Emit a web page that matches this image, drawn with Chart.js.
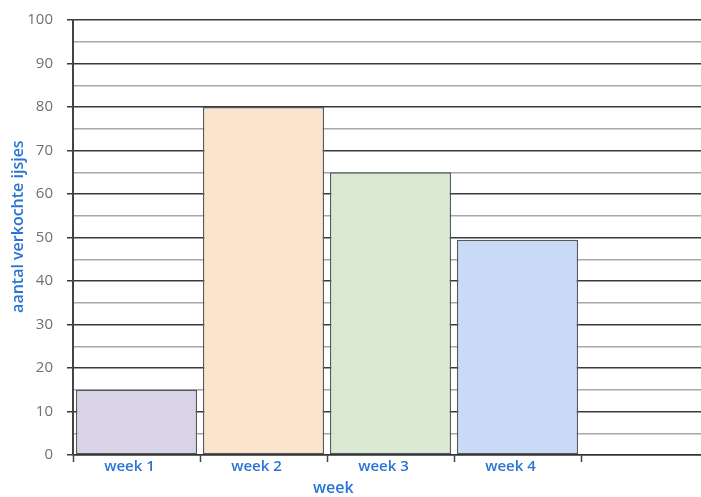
<!DOCTYPE html>
<html>
<head>
<meta charset="utf-8">
<script src="https://cdn.jsdelivr.net/npm/chart.js@4/dist/chart.umd.min.js"></script>
<style>
  html, body { margin: 0; padding: 0; background: #fff; overflow: hidden; }
  #wrap { width: 710px; height: 497px; }
</style>
</head>
<body>
<div id="wrap"><canvas id="c" width="710" height="497"></canvas></div>
<script>
const categories = ['week 1', 'week 2', 'week 3', 'week 4', ''];
const sales = [15, 80, 65, 49.5, null];
const barColors = ['#d9d3e8', '#fce4cc', '#d9e9d3', '#c9daf6', '#ffffff'];
const yTitle = 'aantal verkochte ijsjes';
const xTitle = 'week';
const yMin = 0, yMax = 100, yStep = 5, yLabelStep = 10;

const BLUE = '#2a74d6';
const FONT = '"Open Sans", "Liberation Sans", sans-serif';

const titlePlugin = {
  id: 'titles',
  afterDraw(chart) {
    const ctx = chart.ctx;
    const a = chart.chartArea;
    ctx.save();
    ctx.fillStyle = BLUE;
    ctx.font = '600 16px ' + FONT;
    ctx.textAlign = 'center';
    ctx.textBaseline = 'middle';
    // y title
    ctx.save();
    ctx.translate(18, a.top + (a.bottom - a.top) * 0.475);
    ctx.rotate(-Math.PI / 2);
    ctx.fillText(yTitle, 0, 0);
    ctx.restore();
    // x title
    ctx.fillText(xTitle, a.left + (a.right - a.left) * 0.41, 488);
    ctx.restore();
  }
};

new Chart(document.getElementById('c'), {
  type: 'bar',
  data: {
    labels: categories,
    datasets: [{
      data: sales,
      backgroundColor: barColors,
      borderColor: '#555a60',
      borderWidth: 1.5,
      borderSkipped: false,
      barPercentage: 0.955,
      categoryPercentage: 1.0
    }]
  },
  options: {
    responsive: false,
    animation: false,
    layout: { padding: { top: 20, right: 2, left: 0, bottom: 0 } },
    plugins: { legend: { display: false }, tooltip: { enabled: false } },
    scales: {
      x: {
        offset: true,
        grid: {
          offset: true,
          drawOnChartArea: false,
          drawTicks: true,
          tickLength: 7,
          tickColor: '#444',
          tickWidth: 1.5
        },
        border: { display: true, color: '#333', width: 1.5 },
        ticks: {
          color: BLUE,
          padding: -4,
          labelOffset: -7,
          maxRotation: 0,
          autoSkip: false,
          font: { family: FONT, size: 15, weight: '600' }
        },
        afterFit(scale) { scale.height = 42; }
      },
      y: {
        min: yMin,
        max: yMax,
        ticks: {
          stepSize: yStep,
          color: '#707070',
          padding: 14,
          font: { family: FONT, size: 15 },
          callback: (v) => (v % yLabelStep === 0 ? v : '')
        },
        grid: {
          color: (c) => (c.tick && c.tick.value % yLabelStep === 0 ? '#3a3a3a' : '#a8a8a8'),
          lineWidth: 1.5,
          tickLength: 6,
          tickColor: (c) => (c.tick && c.tick.value % yLabelStep === 0 ? '#3a3a3a' : 'rgba(0,0,0,0)')
        },
        border: { display: true, color: '#444', width: 2 },
        afterFit(scale) {
          scale.width = 73;
          scale.paddingTop = 0;
          scale.paddingBottom = 0;
        }
      }
    }
  },
  plugins: [titlePlugin]
});
</script>
</body>
</html>
